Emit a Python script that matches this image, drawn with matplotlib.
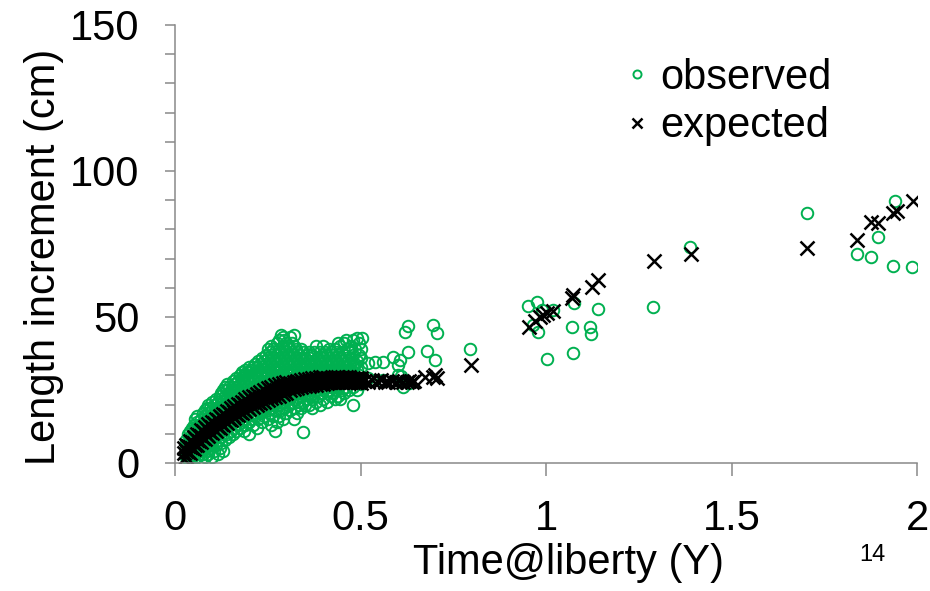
import matplotlib
matplotlib.use('Agg')
import matplotlib.pyplot as plt
from matplotlib.ticker import MultipleLocator

plt.rcParams['font.family'] = ['Liberation Sans', 'DejaVu Sans']

# observed, dense part: (time, [increments])
obs_cols = [
    (0.030, [2, 5, 8]), (0.035, [1.5, 4, 7, 10]), (0.040, [1, 3.5, 6, 9, 11]),
    (0.045, [2, 5, 8, 12]), (0.050, [1.5, 4, 7, 10, 13]), (0.055, [3, 6, 9, 12, 15]),
    (0.060, [2, 5, 8, 11, 14, 16]), (0.065, [3, 7, 10, 13]), (0.070, [1.5, 4, 9, 12, 15]),
    (0.075, [3, 6, 11, 14, 17]), (0.080, [2, 5, 8, 13, 16, 18]), (0.085, [4, 7, 12, 15, 19]),
    (0.090, [3, 6, 10, 14, 17, 20]), (0.095, [5, 8, 13, 16, 19]), (0.100, [2, 7, 11, 15, 18, 21]),
    (0.105, [4, 9, 14, 17, 20]), (0.110, [6, 10, 16, 19, 22]), (0.115, [3, 8, 13, 18, 21]),
    (0.120, [5, 9, 12, 17, 20, 23]), (0.125, [7, 11, 16, 19, 22, 24]), (0.130, [4, 10, 13, 18, 21, 25]),
    (0.135, [8, 12, 17, 20, 23, 26]), (0.140, [10, 14, 19, 22, 25, 27]), (0.145, [9, 13, 18, 21, 24, 26]),
    (0.150, [11, 15, 20, 23, 25]), (0.155, [10, 14, 19, 22, 26, 28]), (0.160, [12, 16, 21, 24, 27]),
    (0.165, [11, 15, 20, 23, 26, 29]), (0.170, [13, 17, 22, 25, 28]), (0.175, [12, 16, 21, 24, 27, 30]),
    (0.180, [14, 18, 23, 26, 29, 31]), (0.185, [11, 15, 22, 25, 28, 30]), (0.190, [13, 17, 24, 27, 30, 32]),
    (0.195, [16, 20, 26, 29, 31]), (0.200, [10, 14, 18, 25, 28, 31, 33]), (0.205, [15, 19, 23, 27, 30, 32]),
    (0.210, [13, 17, 22, 26, 29, 33]), (0.215, [16, 20, 25, 28, 31, 34]), (0.220, [12, 18, 24, 27, 30, 33]),
    (0.225, [15, 19, 23, 26, 29, 32, 35]), (0.230, [17, 21, 25, 28, 31, 34]),
    (0.235, [14, 18, 24, 27, 30, 33, 36]), (0.240, [16, 20, 26, 29, 32, 35]),
    (0.245, [19, 23, 25, 28, 31, 34, 37]), (0.250, [15, 18, 22, 27, 30, 33, 36, 39]),
    (0.255, [17, 21, 26, 29, 32, 35, 38]), (0.260, [13, 19, 23, 28, 31, 34, 37, 40]),
    (0.265, [16, 20, 27, 30, 33, 36, 39]), (0.270, [11, 18, 22, 26, 29, 32, 35, 38]),
    (0.275, [14, 21, 24, 28, 31, 34, 37, 41]), (0.280, [16, 20, 27, 30, 33, 36, 39, 42]),
    (0.285, [18, 23, 29, 32, 35, 38, 44]), (0.290, [15, 21, 25, 28, 31, 34, 37, 40, 43]),
    (0.295, [19, 24, 30, 33, 36, 39, 42]), (0.300, [17, 22, 29, 32, 35, 38, 41]),
    (0.305, [20, 25, 31, 34, 37, 40]), (0.310, [18, 23, 30, 33, 36, 39, 43]),
    (0.315, [21, 26, 29, 32, 35, 38, 41]), (0.320, [15, 19, 24, 31, 34, 37, 40, 44]),
    (0.325, [22, 25, 30, 33, 36, 39]), (0.330, [17, 21, 29, 32, 35, 38]),
    (0.335, [20, 24, 31, 34, 37]), (0.340, [19, 23, 30, 33, 36, 39]),
    (0.345, [10.7, 21, 25, 32, 35, 38]), (0.350, [20, 24, 31, 34, 36]),
    (0.355, [22, 26, 30, 33, 37]), (0.360, [20, 24, 31, 35, 38]),
    (0.365, [23, 25, 32, 34, 36]), (0.370, [19, 22, 30, 33, 37]),
    (0.375, [24, 26, 31, 35, 38]), (0.380, [21, 25, 32, 34, 40]),
    (0.385, [23, 30, 33, 36]), (0.390, [20, 26, 31, 35, 38]),
    (0.395, [24, 32, 34, 37]), (0.400, [22, 25, 30, 33, 36, 40]),
    (0.405, [26, 31, 35, 38]), (0.410, [21, 24, 32, 34, 37]),
    (0.415, [25, 30, 33, 36, 39]), (0.420, [23, 26, 31, 35, 38]),
    (0.425, [24, 32, 34, 37]), (0.430, [22, 30, 33, 36, 39]),
    (0.435, [25, 31, 35, 38]), (0.440, [23, 26, 32, 34, 37, 41]),
    (0.445, [22, 30, 33, 36, 40]), (0.450, [25, 31, 35, 38]),
    (0.455, [24, 32, 34, 37, 41]), (0.460, [26, 30, 33, 36, 42]),
    (0.465, [31, 35, 39]), (0.470, [25, 32, 34, 38]),
    (0.475, [30, 36, 40]), (0.480, [19.7, 26, 31, 33, 37, 42]),
    (0.485, [34, 39]), (0.490, [25, 32, 35, 42.8]),
    (0.495, [30, 37, 41]), (0.500, [27, 33, 36, 39]),
]

# observed, sparse part
obs_tail = [
    (0.503, 42.7), (0.521, 34.1), (0.539, 34.7), (0.561, 34.7), (0.588, 36.4), (0.601, 33.6),
    (0.606, 35.3), (0.615, 26.1), (0.608, 29.8), (0.520, 29.0), (0.560, 28.5), (0.600, 30.0),
    (0.630, 27.5), (0.620, 44.9), (0.629, 46.9), (0.629, 38.1), (0.678, 38.5), (0.695, 47.3),
    (0.701, 35.3), (0.705, 44.6), (0.795, 39.0),
    (0.952, 53.8), (0.975, 55.2), (0.988, 52.4), (1.019, 52.4), (0.979, 45.0), (0.965, 47.3),
    (1.002, 35.6), (1.069, 46.7), (1.072, 37.6), (1.075, 54.8), (1.119, 46.7), (1.121, 44.2),
    (1.139, 52.7), (1.288, 53.5), (1.388, 74.1), (1.703, 85.5), (1.837, 71.5), (1.876, 70.7),
    (1.894, 77.3), (1.941, 89.8), (1.936, 67.5), (1.987, 67.0),
]

# expected, dense band: rows across the band at whole steps ...
exp_x = [0.025, 0.03, 0.04, 0.05, 0.06, 0.07, 0.08, 0.09, 0.10, 0.11, 0.12, 0.13, 0.14,
         0.15, 0.16, 0.17, 0.18, 0.19, 0.20, 0.21, 0.22, 0.23, 0.24, 0.25, 0.26, 0.27,
         0.28, 0.29, 0.30, 0.31, 0.32, 0.33, 0.34, 0.35, 0.36, 0.37, 0.38, 0.39, 0.40,
         0.41, 0.42, 0.43, 0.44, 0.45, 0.46, 0.47, 0.48, 0.49, 0.50]
exp_mid = [3.3, 4.0, 5.5, 6.8, 8.0, 9.2, 10.2, 11.2, 12.2, 13.1, 14.0, 14.9, 15.8,
           16.7, 17.5, 18.3, 19.0, 19.8, 20.5, 21.1, 21.8, 22.4, 23.0, 23.6, 24.1, 24.6,
           25.1, 25.5, 25.9, 26.3, 26.6, 26.9, 27.2, 27.4, 27.6, 27.8, 28.0, 28.1, 28.2,
           28.3, 28.4, 28.4, 28.5, 28.5, 28.5, 28.5, 28.4, 28.4, 28.3]
exp_hi = [5.3, 6.0, 7.5, 8.8, 10.0, 11.2, 12.2, 13.2, 14.2, 15.1, 16.0, 16.9, 17.8,
          18.7, 19.5, 20.3, 21.0, 21.8, 22.5, 23.1, 23.8, 24.4, 25.0, 25.6, 26.1, 26.6,
          27.1, 27.5, 27.9, 27.5, 27.8, 28.1, 28.4, 28.6, 28.8, 29.0, 29.2, 29.3, 29.4,
          29.1, 29.2, 29.2, 29.3, 29.3, 29.3, 29.3, 29.2, 29.2, 29.1]
exp_lo = [1.3, 2.0, 3.5, 4.8, 6.0, 7.2, 8.2, 9.2, 10.2, 11.1, 12.0, 12.9, 13.8,
          14.7, 15.5, 16.3, 17.0, 17.8, 18.5, 19.1, 19.8, 20.4, 21.0, 21.6, 22.1, 22.6,
          23.1, 23.5, 23.9, 25.1, 25.4, 25.7, 26.0, 26.2, 26.4, 26.6, 26.8, 26.9, 27.0,
          27.5, 27.6, 27.6, 27.7, 27.7, 27.7, 27.7, 27.6, 27.6, 27.5]

# ... and at half steps
exp_x_half = [0.035, 0.045, 0.055, 0.065, 0.075, 0.085, 0.095, 0.105, 0.115, 0.125,
              0.135, 0.145, 0.155, 0.165, 0.175, 0.185, 0.195, 0.205, 0.215, 0.225,
              0.235, 0.245, 0.255, 0.265, 0.275, 0.285, 0.295, 0.305, 0.315, 0.325,
              0.335, 0.345, 0.355, 0.365, 0.375, 0.385, 0.395, 0.405, 0.415, 0.425,
              0.435, 0.445, 0.455, 0.465, 0.475, 0.485, 0.495]
exp_half_hi = [5.9, 7.3, 8.5, 9.7, 10.8, 11.8, 12.8, 13.8, 14.7, 15.6, 16.5, 17.4, 18.2,
               19.0, 19.8, 20.5, 21.3, 21.9, 22.6, 23.2, 23.8, 24.4, 25.0, 25.5, 26.0,
               26.4, 26.8, 26.6, 27.0, 27.3, 27.6, 27.8, 28.0, 28.2, 28.4, 28.6, 28.7,
               28.8, 28.8, 28.9, 29.0, 29.0, 29.0, 29.0, 28.9, 28.9, 28.8]
exp_half_lo = [3.7, 5.1, 6.3, 7.5, 8.6, 9.6, 10.6, 11.6, 12.5, 13.4, 14.3, 15.2, 16.0,
               16.8, 17.6, 18.3, 19.1, 19.7, 20.4, 21.0, 21.6, 22.2, 22.8, 23.3, 23.8,
               24.2, 24.6, 25.6, 26.0, 26.3, 26.6, 26.8, 27.0, 27.2, 27.4, 27.6, 27.7,
               27.8, 27.8, 27.9, 28.0, 28.0, 28.0, 28.0, 27.9, 27.9, 27.8]

# expected, sparse part
exp_tail = [
    (0.51, 28.2), (0.52, 27.9), (0.53, 28.3), (0.545, 28.0), (0.555, 28.4), (0.565, 27.6),
    (0.575, 27.9), (0.585, 28.1), (0.595, 27.7), (0.605, 28.0), (0.615, 27.8), (0.625, 27.9),
    (0.63, 28.2), (0.64, 27.6), (0.645, 28.1), (0.675, 29.3), (0.695, 29.6), (0.705, 29.1),
    (0.70, 30.1), (0.797, 33.6),
    (0.955, 46.7), (0.970, 48.6), (0.984, 50.0), (0.992, 50.7), (1.003, 51.4), (1.019, 52.1),
    (1.070, 56.5), (1.073, 57.5), (1.123, 60.4), (1.140, 62.7), (1.291, 69.2), (1.390, 71.6),
    (1.703, 73.5), (1.839, 76.4), (1.875, 82.6), (1.895, 82.2), (1.935, 85.6), (1.945, 86.4),
    (1.990, 89.8),
]

ox = [c[0] for c in obs_cols for _ in c[1]] + [p[0] for p in obs_tail]
oy = [v for c in obs_cols for v in c[1]] + [p[1] for p in obs_tail]
ex = exp_x * 3 + exp_x_half * 2 + [p[0] for p in exp_tail]
ey = exp_lo + exp_mid + exp_hi + exp_half_lo + exp_half_hi + [p[1] for p in exp_tail]

fig = plt.figure(figsize=(9.3, 5.91), dpi=100)
ax = fig.add_axes([175 / 930, 1 - 463 / 591, 742 / 930, 438 / 591])

ax.plot(ox, oy, 'o', ms=8.3, mfc='none', mec='#00B050', mew=1.4, ls='none', label='observed')
ax.plot(ex, ey, 'x', ms=10.5, color='black', mew=1.8, ls='none', label='expected')

ax.set_xlim(0, 2)
ax.set_ylim(0, 150)
ax.xaxis.set_major_locator(MultipleLocator(0.5))
ax.yaxis.set_major_locator(MultipleLocator(50))
ax.yaxis.set_minor_locator(MultipleLocator(10))
ax.set_xticks([0, 0.5, 1, 1.5, 2], ['0', '0.5', '1', '1.5', '2'])

for s in ['top', 'right']:
    ax.spines[s].set_visible(False)
for s in ['left', 'bottom']:
    ax.spines[s].set_color('#898989')
    ax.spines[s].set_linewidth(1.1)
ax.tick_params(axis='both', which='both', direction='out', color='#898989', width=1.1,
               labelsize=30)
ax.tick_params(axis='x', length=9, pad=17)
ax.tick_params(axis='y', which='both', length=7.5, pad=18)

ax.set_xlabel('Time@liberty (Y)', fontsize=30)
ax.xaxis.set_label_coords(0.530, -0.183)
ax.set_ylabel('Length increment (cm)', fontsize=30)
ax.yaxis.set_label_coords(-0.150, 0.47)

ax.legend(loc='upper left', bbox_to_anchor=(0.612, 0.925), frameon=False, fontsize=30,
          markerscale=0.7, handlelength=0.4, handletextpad=0.35, labelspacing=0.2,
          borderpad=0, borderaxespad=0)

fig.text(872 / 930, 1 - 555 / 591, '14', fontsize=17, ha='center', va='center')

plt.savefig('out.png', dpi=100)
